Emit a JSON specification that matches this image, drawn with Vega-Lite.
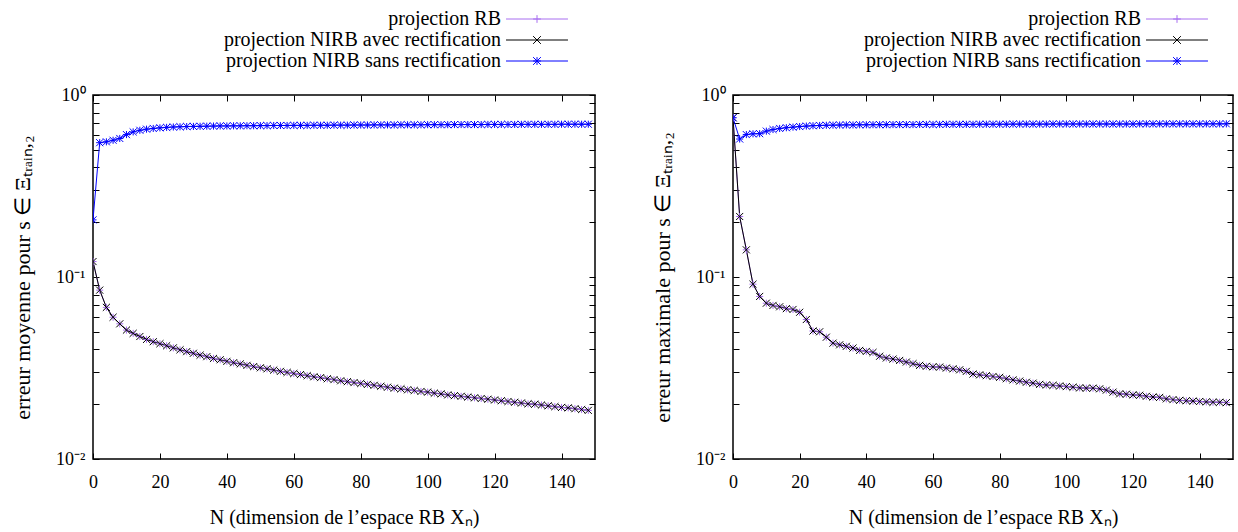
{
"$schema": "https://vega.github.io/schema/vega-lite/v6.json",
"padding": {"left": 10, "top": 8, "right": 5, "bottom": 5},
"background": "white",
"config": {
  "view": {"stroke": "#000", "strokeWidth": 1.5},
  "concat": {"spacing": 53},
  "axis": {"labelFont": "Liberation Serif", "titleFont": "Liberation Serif", "labelFontSize": 18, "titleFontSize": 20, "titleFontWeight": "normal", "labelColor": "#000", "titleColor": "#000", "tickColor": "#000", "tickWidth": 1, "grid": false, "domain": false, "labelFlush": false, "labelOverlap": false},
  "legend": {"labelFont": "Liberation Serif", "labelFontSize": 20, "labelColor": "#000"}
},
"datasets": {
"moy": [
{"s":"RB","N":0,"e":0.1216},{"s":"RB","N":2,"e":0.0847},{"s":"RB","N":4,"e":0.0681},{"s":"RB","N":6,"e":0.0601},{"s":"RB","N":8,"e":0.0553},{"s":"RB","N":10,"e":0.0511},{"s":"RB","N":12,"e":0.049},{"s":"RB","N":14,"e":0.0471},{"s":"RB","N":16,"e":0.0454},{"s":"RB","N":18,"e":0.0441},{"s":"RB","N":20,"e":0.043},{"s":"RB","N":22,"e":0.0419},{"s":"RB","N":24,"e":0.0408},{"s":"RB","N":26,"e":0.0398},{"s":"RB","N":28,"e":0.0389},{"s":"RB","N":30,"e":0.0381},{"s":"RB","N":32,"e":0.0372},{"s":"RB","N":34,"e":0.0365},{"s":"RB","N":36,"e":0.0357},{"s":"RB","N":38,"e":0.0351},{"s":"RB","N":40,"e":0.0344},{"s":"RB","N":42,"e":0.0338},{"s":"RB","N":44,"e":0.0333},{"s":"RB","N":46,"e":0.0327},{"s":"RB","N":48,"e":0.0322},{"s":"RB","N":50,"e":0.0317},{"s":"RB","N":52,"e":0.0313},{"s":"RB","N":54,"e":0.0308},{"s":"RB","N":56,"e":0.0303},{"s":"RB","N":58,"e":0.0299},{"s":"RB","N":60,"e":0.0295},{"s":"RB","N":62,"e":0.0291},{"s":"RB","N":64,"e":0.0287},{"s":"RB","N":66,"e":0.0283},{"s":"RB","N":68,"e":0.028},{"s":"RB","N":70,"e":0.0276},{"s":"RB","N":72,"e":0.0273},{"s":"RB","N":74,"e":0.0269},{"s":"RB","N":76,"e":0.0266},{"s":"RB","N":78,"e":0.0263},{"s":"RB","N":80,"e":0.026},{"s":"RB","N":82,"e":0.0257},{"s":"RB","N":84,"e":0.0254},{"s":"RB","N":86,"e":0.0251},{"s":"RB","N":88,"e":0.0248},{"s":"RB","N":90,"e":0.0245},{"s":"RB","N":92,"e":0.0243},{"s":"RB","N":94,"e":0.024},{"s":"RB","N":96,"e":0.0238},{"s":"RB","N":98,"e":0.0235},{"s":"RB","N":100,"e":0.0233},{"s":"RB","N":102,"e":0.023},{"s":"RB","N":104,"e":0.0228},{"s":"RB","N":106,"e":0.0225},{"s":"RB","N":108,"e":0.0223},{"s":"RB","N":110,"e":0.0221},{"s":"RB","N":112,"e":0.0219},{"s":"RB","N":114,"e":0.0217},{"s":"RB","N":116,"e":0.0215},{"s":"RB","N":118,"e":0.0213},{"s":"RB","N":120,"e":0.0211},{"s":"RB","N":122,"e":0.0209},{"s":"RB","N":124,"e":0.0207},{"s":"RB","N":126,"e":0.0205},{"s":"RB","N":128,"e":0.0203},{"s":"RB","N":130,"e":0.0201},{"s":"RB","N":132,"e":0.02},{"s":"RB","N":134,"e":0.0198},{"s":"RB","N":136,"e":0.0196},{"s":"RB","N":138,"e":0.0194},{"s":"RB","N":140,"e":0.0192},{"s":"RB","N":142,"e":0.0191},{"s":"RB","N":144,"e":0.0189},{"s":"RB","N":146,"e":0.0187},{"s":"RB","N":148,"e":0.0185},
{"s":"avec","N":0,"e":0.1216},{"s":"avec","N":2,"e":0.0847},{"s":"avec","N":4,"e":0.0681},{"s":"avec","N":6,"e":0.0601},{"s":"avec","N":8,"e":0.0553},{"s":"avec","N":10,"e":0.0511},{"s":"avec","N":12,"e":0.049},{"s":"avec","N":14,"e":0.0471},{"s":"avec","N":16,"e":0.0454},{"s":"avec","N":18,"e":0.0441},{"s":"avec","N":20,"e":0.043},{"s":"avec","N":22,"e":0.0419},{"s":"avec","N":24,"e":0.0408},{"s":"avec","N":26,"e":0.0398},{"s":"avec","N":28,"e":0.0389},{"s":"avec","N":30,"e":0.0381},{"s":"avec","N":32,"e":0.0372},{"s":"avec","N":34,"e":0.0365},{"s":"avec","N":36,"e":0.0357},{"s":"avec","N":38,"e":0.0351},{"s":"avec","N":40,"e":0.0344},{"s":"avec","N":42,"e":0.0338},{"s":"avec","N":44,"e":0.0333},{"s":"avec","N":46,"e":0.0327},{"s":"avec","N":48,"e":0.0322},{"s":"avec","N":50,"e":0.0317},{"s":"avec","N":52,"e":0.0313},{"s":"avec","N":54,"e":0.0308},{"s":"avec","N":56,"e":0.0303},{"s":"avec","N":58,"e":0.0299},{"s":"avec","N":60,"e":0.0295},{"s":"avec","N":62,"e":0.0291},{"s":"avec","N":64,"e":0.0287},{"s":"avec","N":66,"e":0.0283},{"s":"avec","N":68,"e":0.028},{"s":"avec","N":70,"e":0.0276},{"s":"avec","N":72,"e":0.0273},{"s":"avec","N":74,"e":0.0269},{"s":"avec","N":76,"e":0.0266},{"s":"avec","N":78,"e":0.0263},{"s":"avec","N":80,"e":0.026},{"s":"avec","N":82,"e":0.0257},{"s":"avec","N":84,"e":0.0254},{"s":"avec","N":86,"e":0.0251},{"s":"avec","N":88,"e":0.0248},{"s":"avec","N":90,"e":0.0245},{"s":"avec","N":92,"e":0.0243},{"s":"avec","N":94,"e":0.024},{"s":"avec","N":96,"e":0.0238},{"s":"avec","N":98,"e":0.0235},{"s":"avec","N":100,"e":0.0233},{"s":"avec","N":102,"e":0.023},{"s":"avec","N":104,"e":0.0228},{"s":"avec","N":106,"e":0.0225},{"s":"avec","N":108,"e":0.0223},{"s":"avec","N":110,"e":0.0221},{"s":"avec","N":112,"e":0.0219},{"s":"avec","N":114,"e":0.0217},{"s":"avec","N":116,"e":0.0215},{"s":"avec","N":118,"e":0.0213},{"s":"avec","N":120,"e":0.0211},{"s":"avec","N":122,"e":0.0209},{"s":"avec","N":124,"e":0.0207},{"s":"avec","N":126,"e":0.0205},{"s":"avec","N":128,"e":0.0203},{"s":"avec","N":130,"e":0.0201},{"s":"avec","N":132,"e":0.02},{"s":"avec","N":134,"e":0.0198},{"s":"avec","N":136,"e":0.0196},{"s":"avec","N":138,"e":0.0194},{"s":"avec","N":140,"e":0.0192},{"s":"avec","N":142,"e":0.0191},{"s":"avec","N":144,"e":0.0189},{"s":"avec","N":146,"e":0.0187},{"s":"avec","N":148,"e":0.0185},
{"s":"sans","N":0,"e":0.206},{"s":"sans","N":2,"e":0.547},{"s":"sans","N":4,"e":0.553},{"s":"sans","N":6,"e":0.564},{"s":"sans","N":8,"e":0.577},{"s":"sans","N":10,"e":0.606},{"s":"sans","N":12,"e":0.627},{"s":"sans","N":14,"e":0.64},{"s":"sans","N":16,"e":0.649},{"s":"sans","N":18,"e":0.655},{"s":"sans","N":20,"e":0.66},{"s":"sans","N":22,"e":0.664},{"s":"sans","N":24,"e":0.667},{"s":"sans","N":26,"e":0.669},{"s":"sans","N":28,"e":0.671},{"s":"sans","N":30,"e":0.672},{"s":"sans","N":32,"e":0.673},{"s":"sans","N":34,"e":0.674},{"s":"sans","N":36,"e":0.675},{"s":"sans","N":38,"e":0.676},{"s":"sans","N":40,"e":0.676},{"s":"sans","N":42,"e":0.677},{"s":"sans","N":44,"e":0.677},{"s":"sans","N":46,"e":0.678},{"s":"sans","N":48,"e":0.678},{"s":"sans","N":50,"e":0.679},{"s":"sans","N":52,"e":0.679},{"s":"sans","N":54,"e":0.68},{"s":"sans","N":56,"e":0.68},{"s":"sans","N":58,"e":0.68},{"s":"sans","N":60,"e":0.681},{"s":"sans","N":62,"e":0.681},{"s":"sans","N":64,"e":0.681},{"s":"sans","N":66,"e":0.682},{"s":"sans","N":68,"e":0.682},{"s":"sans","N":70,"e":0.682},{"s":"sans","N":72,"e":0.683},{"s":"sans","N":74,"e":0.683},{"s":"sans","N":76,"e":0.683},{"s":"sans","N":78,"e":0.684},{"s":"sans","N":80,"e":0.684},{"s":"sans","N":82,"e":0.684},{"s":"sans","N":84,"e":0.685},{"s":"sans","N":86,"e":0.685},{"s":"sans","N":88,"e":0.685},{"s":"sans","N":90,"e":0.685},{"s":"sans","N":92,"e":0.686},{"s":"sans","N":94,"e":0.686},{"s":"sans","N":96,"e":0.686},{"s":"sans","N":98,"e":0.686},{"s":"sans","N":100,"e":0.687},{"s":"sans","N":102,"e":0.687},{"s":"sans","N":104,"e":0.687},{"s":"sans","N":106,"e":0.687},{"s":"sans","N":108,"e":0.688},{"s":"sans","N":110,"e":0.688},{"s":"sans","N":112,"e":0.688},{"s":"sans","N":114,"e":0.688},{"s":"sans","N":116,"e":0.688},{"s":"sans","N":118,"e":0.689},{"s":"sans","N":120,"e":0.689},{"s":"sans","N":122,"e":0.689},{"s":"sans","N":124,"e":0.689},{"s":"sans","N":126,"e":0.689},{"s":"sans","N":128,"e":0.69},{"s":"sans","N":130,"e":0.69},{"s":"sans","N":132,"e":0.69},{"s":"sans","N":134,"e":0.69},{"s":"sans","N":136,"e":0.69},{"s":"sans","N":138,"e":0.69},{"s":"sans","N":140,"e":0.691},{"s":"sans","N":142,"e":0.691},{"s":"sans","N":144,"e":0.691},{"s":"sans","N":146,"e":0.691},{"s":"sans","N":148,"e":0.691}
],
"max": [
{"s":"RB","N":0,"e":0.75},{"s":"RB","N":2,"e":0.215},{"s":"RB","N":4,"e":0.141},{"s":"RB","N":6,"e":0.0913},{"s":"RB","N":8,"e":0.0782},{"s":"RB","N":10,"e":0.0718},{"s":"RB","N":12,"e":0.0698},{"s":"RB","N":14,"e":0.0686},{"s":"RB","N":16,"e":0.067},{"s":"RB","N":18,"e":0.0663},{"s":"RB","N":20,"e":0.064},{"s":"RB","N":22,"e":0.0584},{"s":"RB","N":24,"e":0.0505},{"s":"RB","N":26,"e":0.05},{"s":"RB","N":28,"e":0.0467},{"s":"RB","N":30,"e":0.0433},{"s":"RB","N":32,"e":0.0424},{"s":"RB","N":34,"e":0.0416},{"s":"RB","N":36,"e":0.0407},{"s":"RB","N":38,"e":0.0395},{"s":"RB","N":40,"e":0.039},{"s":"RB","N":42,"e":0.0385},{"s":"RB","N":44,"e":0.0367},{"s":"RB","N":46,"e":0.0359},{"s":"RB","N":48,"e":0.0354},{"s":"RB","N":50,"e":0.0348},{"s":"RB","N":52,"e":0.0341},{"s":"RB","N":54,"e":0.0334},{"s":"RB","N":56,"e":0.0327},{"s":"RB","N":58,"e":0.0323},{"s":"RB","N":60,"e":0.0321},{"s":"RB","N":62,"e":0.032},{"s":"RB","N":64,"e":0.0316},{"s":"RB","N":66,"e":0.0313},{"s":"RB","N":68,"e":0.0309},{"s":"RB","N":70,"e":0.0303},{"s":"RB","N":72,"e":0.0293},{"s":"RB","N":74,"e":0.029},{"s":"RB","N":76,"e":0.0287},{"s":"RB","N":78,"e":0.0284},{"s":"RB","N":80,"e":0.0281},{"s":"RB","N":82,"e":0.0276},{"s":"RB","N":84,"e":0.0272},{"s":"RB","N":86,"e":0.0268},{"s":"RB","N":88,"e":0.0264},{"s":"RB","N":90,"e":0.0261},{"s":"RB","N":92,"e":0.0257},{"s":"RB","N":94,"e":0.0255},{"s":"RB","N":96,"e":0.0254},{"s":"RB","N":98,"e":0.0252},{"s":"RB","N":100,"e":0.025},{"s":"RB","N":102,"e":0.0248},{"s":"RB","N":104,"e":0.0246},{"s":"RB","N":106,"e":0.0245},{"s":"RB","N":108,"e":0.0245},{"s":"RB","N":110,"e":0.0243},{"s":"RB","N":112,"e":0.0239},{"s":"RB","N":114,"e":0.0233},{"s":"RB","N":116,"e":0.0228},{"s":"RB","N":118,"e":0.0227},{"s":"RB","N":120,"e":0.0225},{"s":"RB","N":122,"e":0.0224},{"s":"RB","N":124,"e":0.0221},{"s":"RB","N":126,"e":0.0219},{"s":"RB","N":128,"e":0.0218},{"s":"RB","N":130,"e":0.0214},{"s":"RB","N":132,"e":0.0212},{"s":"RB","N":134,"e":0.021},{"s":"RB","N":136,"e":0.0209},{"s":"RB","N":138,"e":0.0208},{"s":"RB","N":140,"e":0.0207},{"s":"RB","N":142,"e":0.0206},{"s":"RB","N":144,"e":0.0205},{"s":"RB","N":146,"e":0.0205},{"s":"RB","N":148,"e":0.0204},
{"s":"avec","N":0,"e":0.75},{"s":"avec","N":2,"e":0.215},{"s":"avec","N":4,"e":0.141},{"s":"avec","N":6,"e":0.0913},{"s":"avec","N":8,"e":0.0782},{"s":"avec","N":10,"e":0.0718},{"s":"avec","N":12,"e":0.0698},{"s":"avec","N":14,"e":0.0686},{"s":"avec","N":16,"e":0.067},{"s":"avec","N":18,"e":0.0663},{"s":"avec","N":20,"e":0.064},{"s":"avec","N":22,"e":0.0584},{"s":"avec","N":24,"e":0.0505},{"s":"avec","N":26,"e":0.05},{"s":"avec","N":28,"e":0.0467},{"s":"avec","N":30,"e":0.0433},{"s":"avec","N":32,"e":0.0424},{"s":"avec","N":34,"e":0.0416},{"s":"avec","N":36,"e":0.0407},{"s":"avec","N":38,"e":0.0395},{"s":"avec","N":40,"e":0.039},{"s":"avec","N":42,"e":0.0385},{"s":"avec","N":44,"e":0.0367},{"s":"avec","N":46,"e":0.0359},{"s":"avec","N":48,"e":0.0354},{"s":"avec","N":50,"e":0.0348},{"s":"avec","N":52,"e":0.0341},{"s":"avec","N":54,"e":0.0334},{"s":"avec","N":56,"e":0.0327},{"s":"avec","N":58,"e":0.0323},{"s":"avec","N":60,"e":0.0321},{"s":"avec","N":62,"e":0.032},{"s":"avec","N":64,"e":0.0316},{"s":"avec","N":66,"e":0.0313},{"s":"avec","N":68,"e":0.0309},{"s":"avec","N":70,"e":0.0303},{"s":"avec","N":72,"e":0.0293},{"s":"avec","N":74,"e":0.029},{"s":"avec","N":76,"e":0.0287},{"s":"avec","N":78,"e":0.0284},{"s":"avec","N":80,"e":0.0281},{"s":"avec","N":82,"e":0.0276},{"s":"avec","N":84,"e":0.0272},{"s":"avec","N":86,"e":0.0268},{"s":"avec","N":88,"e":0.0264},{"s":"avec","N":90,"e":0.0261},{"s":"avec","N":92,"e":0.0257},{"s":"avec","N":94,"e":0.0255},{"s":"avec","N":96,"e":0.0254},{"s":"avec","N":98,"e":0.0252},{"s":"avec","N":100,"e":0.025},{"s":"avec","N":102,"e":0.0248},{"s":"avec","N":104,"e":0.0246},{"s":"avec","N":106,"e":0.0245},{"s":"avec","N":108,"e":0.0245},{"s":"avec","N":110,"e":0.0243},{"s":"avec","N":112,"e":0.0239},{"s":"avec","N":114,"e":0.0233},{"s":"avec","N":116,"e":0.0228},{"s":"avec","N":118,"e":0.0227},{"s":"avec","N":120,"e":0.0225},{"s":"avec","N":122,"e":0.0224},{"s":"avec","N":124,"e":0.0221},{"s":"avec","N":126,"e":0.0219},{"s":"avec","N":128,"e":0.0218},{"s":"avec","N":130,"e":0.0214},{"s":"avec","N":132,"e":0.0212},{"s":"avec","N":134,"e":0.021},{"s":"avec","N":136,"e":0.0209},{"s":"avec","N":138,"e":0.0208},{"s":"avec","N":140,"e":0.0207},{"s":"avec","N":142,"e":0.0206},{"s":"avec","N":144,"e":0.0205},{"s":"avec","N":146,"e":0.0205},{"s":"avec","N":148,"e":0.0204},
{"s":"sans","N":0,"e":0.75},{"s":"sans","N":2,"e":0.573},{"s":"sans","N":4,"e":0.606},{"s":"sans","N":6,"e":0.612},{"s":"sans","N":8,"e":0.613},{"s":"sans","N":10,"e":0.633},{"s":"sans","N":12,"e":0.646},{"s":"sans","N":14,"e":0.655},{"s":"sans","N":16,"e":0.661},{"s":"sans","N":18,"e":0.666},{"s":"sans","N":20,"e":0.671},{"s":"sans","N":22,"e":0.675},{"s":"sans","N":24,"e":0.678},{"s":"sans","N":26,"e":0.68},{"s":"sans","N":28,"e":0.682},{"s":"sans","N":30,"e":0.683},{"s":"sans","N":32,"e":0.684},{"s":"sans","N":34,"e":0.685},{"s":"sans","N":36,"e":0.685},{"s":"sans","N":38,"e":0.686},{"s":"sans","N":40,"e":0.686},{"s":"sans","N":42,"e":0.687},{"s":"sans","N":44,"e":0.687},{"s":"sans","N":46,"e":0.687},{"s":"sans","N":48,"e":0.688},{"s":"sans","N":50,"e":0.688},{"s":"sans","N":52,"e":0.688},{"s":"sans","N":54,"e":0.688},{"s":"sans","N":56,"e":0.689},{"s":"sans","N":58,"e":0.689},{"s":"sans","N":60,"e":0.689},{"s":"sans","N":62,"e":0.689},{"s":"sans","N":64,"e":0.69},{"s":"sans","N":66,"e":0.69},{"s":"sans","N":68,"e":0.69},{"s":"sans","N":70,"e":0.69},{"s":"sans","N":72,"e":0.69},{"s":"sans","N":74,"e":0.691},{"s":"sans","N":76,"e":0.691},{"s":"sans","N":78,"e":0.691},{"s":"sans","N":80,"e":0.691},{"s":"sans","N":82,"e":0.691},{"s":"sans","N":84,"e":0.692},{"s":"sans","N":86,"e":0.692},{"s":"sans","N":88,"e":0.692},{"s":"sans","N":90,"e":0.692},{"s":"sans","N":92,"e":0.692},{"s":"sans","N":94,"e":0.692},{"s":"sans","N":96,"e":0.693},{"s":"sans","N":98,"e":0.693},{"s":"sans","N":100,"e":0.693},{"s":"sans","N":102,"e":0.693},{"s":"sans","N":104,"e":0.693},{"s":"sans","N":106,"e":0.693},{"s":"sans","N":108,"e":0.693},{"s":"sans","N":110,"e":0.693},{"s":"sans","N":112,"e":0.693},{"s":"sans","N":114,"e":0.693},{"s":"sans","N":116,"e":0.693},{"s":"sans","N":118,"e":0.693},{"s":"sans","N":120,"e":0.693},{"s":"sans","N":122,"e":0.694},{"s":"sans","N":124,"e":0.694},{"s":"sans","N":126,"e":0.694},{"s":"sans","N":128,"e":0.694},{"s":"sans","N":130,"e":0.694},{"s":"sans","N":132,"e":0.694},{"s":"sans","N":134,"e":0.694},{"s":"sans","N":136,"e":0.694},{"s":"sans","N":138,"e":0.694},{"s":"sans","N":140,"e":0.694},{"s":"sans","N":142,"e":0.694},{"s":"sans","N":144,"e":0.694},{"s":"sans","N":146,"e":0.694},{"s":"sans","N":148,"e":0.694}
]
},
"hconcat": [
{
  "width": 502, "height": 364,
  "data": {"name": "moy"},
  "resolve": {"axis": {"x": "independent", "y": "independent"}},
  "layer": [
    {"mark": {"type": "line", "strokeWidth": 1, "clip": true},
     "encoding": {
       "x": {"field": "N", "type": "quantitative", "scale": {"domain": [0, 150], "nice": false, "zero": false},
             "axis": {"orient": "bottom", "values": [0,20,40,60,80,100,120,140], "tickSize": -6, "labelPadding": 20, "title": "N (dimension de l’espace RB Xₙ)", "titlePadding": 16}},
       "y": {"field": "e", "type": "quantitative", "scale": {"type": "log", "domain": [0.01, 1], "nice": false},
             "axis": {"orient": "left", "values": [0.01,0.02,0.03,0.04,0.05,0.06,0.07,0.08,0.09,0.1,0.2,0.3,0.4,0.5,0.6,0.7,0.8,0.9,1], "tickSize": -6, "labelPadding": 14,
                      "labelExpr": "datum.value > 0.99 ? '10⁰' : (datum.value > 0.099 && datum.value < 0.101) ? '10⁻¹' : datum.value < 0.0101 ? '10⁻²' : ''",
                      "title": "erreur moyenne pour s ∈ Ξₜᵣₐᵢₙ,₂", "titleFontSize": 22, "titlePadding": 21}},
       "color": {"field": "s", "type": "nominal", "scale": {"domain": ["RB", "avec", "sans"], "range": ["#a86ef0", "#000000", "#0000ff"]}}
     }},
    {"mark": {"type": "point", "filled": false, "strokeWidth": 1, "size": 50, "opacity": 1, "clip": true},
     "encoding": {
       "x": {"field": "N", "type": "quantitative", "axis": {"orient": "top", "values": [0,20,40,60,80,100,120,140], "tickSize": -6, "labels": false, "title": null}},
       "y": {"field": "e", "type": "quantitative", "axis": {"orient": "right", "values": [0.01,0.02,0.03,0.04,0.05,0.06,0.07,0.08,0.09,0.1,0.2,0.3,0.4,0.5,0.6,0.7,0.8,0.9,1], "tickSize": -6, "labels": false, "title": null}},
       "color": {"field": "s", "type": "nominal",
                 "legend": {"title": null, "orient": "none", "legendX": 434, "legendY": -86, "padding": 0, "rowPadding": 1,
                            "labelAlign": "right", "labelOffset": -46, "labelLimit": 500, "symbolSize": 240, "symbolStrokeWidth": 1, "symbolFillColor": "transparent",
                            "labelExpr": "datum.value == 'RB' ? 'projection RB' : datum.value == 'avec' ? 'projection NIRB avec rectification' : 'projection NIRB sans rectification'",
                            "symbolType": {"expr": "datum.value == 'RB' ? 'M-4,0L4,0M-0.5,0L0.5,0M0,-0.5L0,0.5' : datum.value == 'avec' ? 'M-4,0L4,0M-0.5,-0.5L0.5,0.5M-0.5,0.5L0.5,-0.5' : 'M-4,0L4,0M-0.5,0L0.5,0M0,-0.5L0,0.5M-0.5,-0.5L0.5,0.5M-0.5,0.5L0.5,-0.5'"}}},
       "shape": {"field": "s", "type": "nominal", "legend": null,
                 "scale": {"range": ["M-1,0L1,0M0,-1L0,1", "M-1,-1L1,1M-1,1L1,-1", "M-1,0L1,0M0,-1L0,1M-1,-1L1,1M-1,1L1,-1"]}}
     }}
  ]
},
{
  "width": 500, "height": 364,
  "data": {"name": "max"},
  "resolve": {"axis": {"x": "independent", "y": "independent"}},
  "layer": [
    {"mark": {"type": "line", "strokeWidth": 1, "clip": true},
     "encoding": {
       "x": {"field": "N", "type": "quantitative", "scale": {"domain": [0, 150], "nice": false, "zero": false},
             "axis": {"orient": "bottom", "values": [0,20,40,60,80,100,120,140], "tickSize": -6, "labelPadding": 20, "title": "N (dimension de l’espace RB Xₙ)", "titlePadding": 16}},
       "y": {"field": "e", "type": "quantitative", "scale": {"type": "log", "domain": [0.01, 1], "nice": false},
             "axis": {"orient": "left", "values": [0.01,0.02,0.03,0.04,0.05,0.06,0.07,0.08,0.09,0.1,0.2,0.3,0.4,0.5,0.6,0.7,0.8,0.9,1], "tickSize": -6, "labelPadding": 14,
                      "labelExpr": "datum.value > 0.99 ? '10⁰' : (datum.value > 0.099 && datum.value < 0.101) ? '10⁻¹' : datum.value < 0.0101 ? '10⁻²' : ''",
                      "title": "erreur maximale pour s ∈ Ξₜᵣₐᵢₙ,₂", "titleFontSize": 22, "titlePadding": 21}},
       "color": {"field": "s", "type": "nominal", "scale": {"domain": ["RB", "avec", "sans"], "range": ["#a86ef0", "#000000", "#0000ff"]}}
     }},
    {"mark": {"type": "point", "filled": false, "strokeWidth": 1, "size": 50, "opacity": 1, "clip": true},
     "encoding": {
       "x": {"field": "N", "type": "quantitative", "axis": {"orient": "top", "values": [0,20,40,60,80,100,120,140], "tickSize": -6, "labels": false, "title": null}},
       "y": {"field": "e", "type": "quantitative", "axis": {"orient": "right", "values": [0.01,0.02,0.03,0.04,0.05,0.06,0.07,0.08,0.09,0.1,0.2,0.3,0.4,0.5,0.6,0.7,0.8,0.9,1], "tickSize": -6, "labels": false, "title": null}},
       "color": {"field": "s", "type": "nominal",
                 "legend": {"title": null, "orient": "none", "legendX": 434, "legendY": -86, "padding": 0, "rowPadding": 1,
                            "labelAlign": "right", "labelOffset": -46, "labelLimit": 500, "symbolSize": 240, "symbolStrokeWidth": 1, "symbolFillColor": "transparent",
                            "labelExpr": "datum.value == 'RB' ? 'projection RB' : datum.value == 'avec' ? 'projection NIRB avec rectification' : 'projection NIRB sans rectification'",
                            "symbolType": {"expr": "datum.value == 'RB' ? 'M-4,0L4,0M-0.5,0L0.5,0M0,-0.5L0,0.5' : datum.value == 'avec' ? 'M-4,0L4,0M-0.5,-0.5L0.5,0.5M-0.5,0.5L0.5,-0.5' : 'M-4,0L4,0M-0.5,0L0.5,0M0,-0.5L0,0.5M-0.5,-0.5L0.5,0.5M-0.5,0.5L0.5,-0.5'"}}},
       "shape": {"field": "s", "type": "nominal", "legend": null,
                 "scale": {"range": ["M-1,0L1,0M0,-1L0,1", "M-1,-1L1,1M-1,1L1,-1", "M-1,0L1,0M0,-1L0,1M-1,-1L1,1M-1,1L1,-1"]}}
     }}
  ]
}
],
"resolve": {"scale": {"color": "independent", "shape": "independent"}, "legend": {"shape": "independent", "color": "independent"}}
}
